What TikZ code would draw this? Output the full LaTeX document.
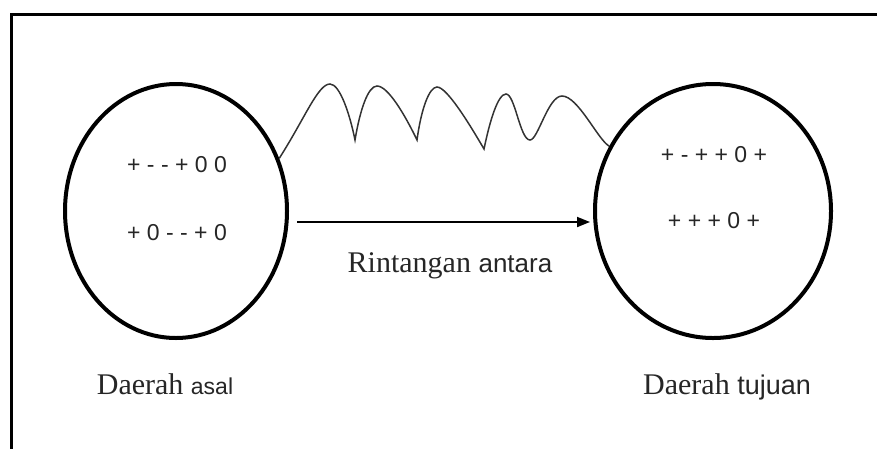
\documentclass[tikz,border=0pt]{standalone}
\usepackage{fontspec}
\setmainfont{Liberation Serif}
\newfontfamily\sansf{Liberation Sans}
\usetikzlibrary{arrows.meta, shapes.geometric}

\begin{document}
\begin{tikzpicture}[
  x=1pt, y=-1pt,
  region/.style={ellipse, draw, line width=4pt, minimum width=222pt,
                 minimum height=254pt, inner sep=0pt},
  seq/.style={anchor=base, font=\sansf\fontsize{23}{26}\selectfont, text=black!85},
  lbl/.style={anchor=base, font=\fontsize{30}{34}\selectfont, text=black!85},
  arr/.style={-{Triangle[length=13pt,width=10pt]}, line width=1.8pt},
  wave/.style={line width=1.5pt, black!80},
]
\useasboundingbox (0,0) rectangle (877,448);
\clip (0,0) rectangle (877,448);

% outer frame
\draw[line width=3pt] (11,460) -- (11,14) -- (890,14);

% the two regions
\node[region] (asal) at (176,211) {};
\node[region, minimum width=236pt] (tujuan) at (713,211) {};

\node[seq] (asal1) at (177,172) {+ - - + 0 0};
\node[seq] (asal2) at (177,240) {+ 0 - - + 0};
\node[seq] (tujuan1) at (714,162) {+ - + + 0 +};
\node[seq] (tujuan2) at (714,228) {+ + + 0 +};

% labels
\node[lbl] (lblasal) at (165,394) {Daerah {\sansf\fontsize{23}{26}\selectfont asal}};
\node[lbl] (lbltujuan) at (727,394) {Daerah {\sansf\fontsize{27}{30}\selectfont tujuan}};
\node[lbl] (lblantara) at (450,272) {Rintangan {\sansf\fontsize{26}{30}\selectfont antara}};

% connectors
\draw[arr] ([shift={(8pt,-11pt)}]asal.east) -- ([shift={(-3pt,-11pt)}]tujuan.west);
\draw[wave] (asal.27)
  .. controls (305,118) and (318,84) .. (330,84)
  .. controls (340,84) and (350,115) .. (355,140)
  .. controls (360,110) and (368,86) .. (377,86)
  .. controls (388,86) and (405,115) .. (417,140)
  .. controls (421,110) and (429,87) .. (437,87)
  .. controls (447,87) and (470,125) .. (484,149)
  .. controls (490,120) and (498,94) .. (506,94)
  .. controls (515,94) and (520,140) .. (530,140)
  .. controls (538,140) and (548,96) .. (562,96)
  .. controls (578,96) and (598,140) .. (tujuan.148);
\end{tikzpicture}
\end{document}
